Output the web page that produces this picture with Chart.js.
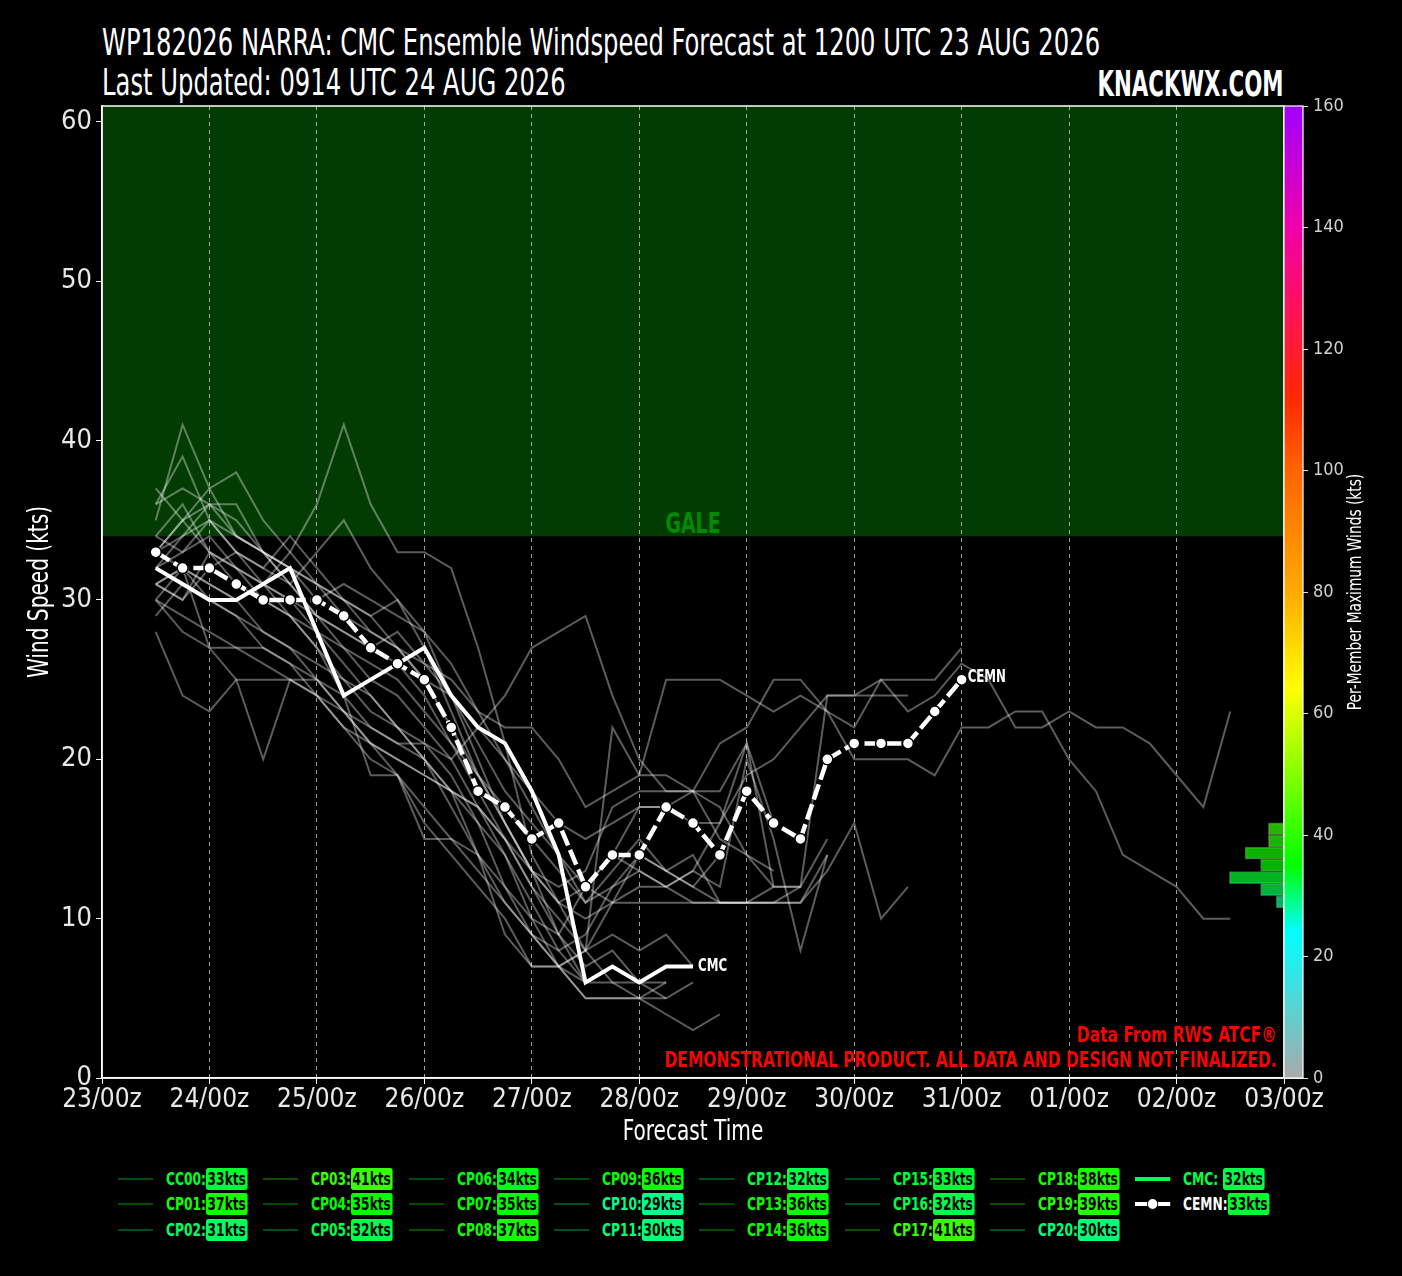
<!DOCTYPE html>
<html>
<head>
<meta charset="utf-8">
<script src="https://cdn.jsdelivr.net/npm/chart.js@4.4.1/dist/chart.umd.min.js"></script>
<style>
  html, body { margin: 0; padding: 0; background: #000; }
  body { width: 1402px; height: 1276px; position: relative; overflow: hidden;
         font-family: "Liberation Sans Narrow", "DejaVu Sans Condensed", "DejaVu Sans", sans-serif; }
  #wrap { position: absolute; left: 0; top: 0; width: 1402px; height: 1160px; }
  .ttl { position: absolute; color: #fff; white-space: nowrap; line-height: 1; }
  #t1 { left: 102px; top: 30px; font-size: 31px; transform-origin: 0 100%; transform: scale(0.87, 1.22); }
  #t2 { left: 102px; top: 70px; font-size: 31px; transform-origin: 0 100%; transform: scale(0.87, 1.22); }
  #brand { right: 118px; top: 72px; font-size: 30px; font-weight: bold; transform-origin: 100% 100%; transform: scale(0.79, 1.18); }
  .li { position: absolute; display: flex; align-items: center; height: 24px; transform-origin: 0 50%;
        transform: translateY(-50%) scaleX(0.8); font-weight: bold; font-size: 17px; }
  .sw { width: 44px; height: 0; margin-right: 16px; }
  .lb { min-width: 50px; }
  .bd { color: #000; border-radius: 3px; padding: 0 2px; line-height: 22px; }
</style>
</head>
<body>
<div id="t1" class="ttl">WP182026 NARRA: CMC Ensemble Windspeed Forecast at 1200 UTC 23 AUG 2026</div>
<div id="t2" class="ttl">Last Updated: 0914 UTC 24 AUG 2026</div>
<div id="brand" class="ttl">KNACKWX.COM</div>
<div id="wrap"><canvas id="chart" width="1402" height="1160"></canvas></div>
<div id="legend"></div>
<script>
// forecast hours after 23/00z
const forecastHours = [12,18,24,30,36,42,48,54,60,66,72,78,84,90,96,102,108,114,120,126,132,138,
                       144,150,156,162,168,174,180,186,192,198,204,210,216,222,228,234,240,246,252];
const dayTickHours = [0,24,48,72,96,120,144,168,192,216,240,264];
const dayLabels = ['23/00z','24/00z','25/00z','26/00z','27/00z','28/00z','29/00z','30/00z','31/00z','01/00z','02/00z','03/00z'];
const windTicks = [0,10,20,30,40,50,60];
const cbarTicks = [0,20,40,60,80,100,120,140,160];
const galeThreshold = 34;

// ensemble members (kts, every 6h from 12h)
const cc00 = [33,32,31,30,31,30,28,27,26,25,23,21,19,17,15,13,11,12,13,12,11,11,11,11,12,15];
const cp01 = [37,35,33,32,30,29,28,26,24,22,20,18,16,14,10,7,5,5,5,6];
const cp02 = [29,31,30,29,28,27,26,25,24,22,20,18,14,9,7,7,8,11,14,13,12,14];
const cp03 = [35,41,37,34,33,31,29,28,27,26,24,21,18,15,12,10,8,9,8,9,7];
const cp04 = [33,34,35,33,32,31,33,35,32,30,28,26,23,20,17,14,11,13,15,13,14,11,11,11,11,14];
const cp05 = [31,32,27,25,20,25,24,22,21,20,19,18,17,15,12,9,6,7,6,5];
const cp06 = [32,33,34,32,31,30,29,28,27,28,26,25,23,22,22,20,17,18,19,25,25,25,24,23,24,23,22,25,25,25,27];
const cp07 = [34,33,35,34,33,32,31,30,29,30,27,23,19,16,13,11,8,6,5,5,6];
const cp08 = [36,37,36,35,33,32,30,31,30,29,28,24,20,16,13,12,13,17,18,18,18,15,14,13];
const cp09 = [32,34,36,36,33,31,29,27,25,24,22,20,17,14,11,8,6,7,6];
const cp10 = [28,24,23,25,25,25,25,24,22,21,21,20,22,24,27,28,29,24,20,18,18,17,14,12];
const cp11 = [30,29,28,27,27,26,25,23,22,21,20,17,14,11,9,7,8,22,19,19,18,21,22,25,25,23,20,20,20,19,22,22,23,23,20,18,14,13,12,10,10];
const cp12 = [31,32,30,29,27,26,24,22,20,19,17,15,13,11,9,8,9,12,14,13,12,11,11,11,11,13,16,10,12];
const cp13 = [34,36,33,32,31,29,27,24,19,19,16,14,12,10,7,7,5,5,5,4,3,4];
const cp14 = [33,35,36,34,33,32,31,29,28,27,26,24,22,20,18,16,15,16,17,17,16,16,19,20,22,24,24,24,24];
const cp15 = [31,30,33,31,30,29,27,25,23,22,21,19,16,12,10,9,12,14,13,12,13,12,20,15,8,14];
const cp16 = [30,32,31,30,28,27,25,23,21,19,15,15,14,12,9,7,6,6,6,7];
const cp17 = [31,30,32,33,31,33,36,41,36,33,33,32,27,21,14,11,12,14,17,17,18,18,21,16];
const cp18 = [33,35,37,38,35,33,31,30,28,27,25,22,19,16,13,9,7,8,6,6];
const cp19 = [36,39,35,33,32,34,32,30,29,27,25,24,21,18,16,14,12,11,11,11,11,11,11,12,12];
const cp20 = [30,28,27,27,26,25,24,23,21,20,19,18,17,15,13,11,10,11,12,12,13,16,21,12,12,24,24,25,23,24,26,25,22,22,23,22,22,21,19,17,23];

const memberNames = ['CC00','CP01','CP02','CP03','CP04','CP05','CP06','CP07','CP08','CP09','CP10',
                     'CP11','CP12','CP13','CP14','CP15','CP16','CP17','CP18','CP19','CP20'];
const memberSeries = [cc00,cp01,cp02,cp03,cp04,cp05,cp06,cp07,cp08,cp09,cp10,
                      cp11,cp12,cp13,cp14,cp15,cp16,cp17,cp18,cp19,cp20];
const memberMax = [33,37,31,41,35,32,34,35,37,36,29,30,32,36,36,33,32,41,38,39,30];

const cmcWind  = [32,31,30,30,31,32,28,24,25,26,27,24,22,21,18,14,6,7,6,7,7];
const cemnWind = [33,32,32,31,30,30,30,29,27,26,25,22,18,17,15,16,12,14,14,17,16,14,18,16,15,20,21,21,21,23,25];
const cmcMax = 32;
const cemnMax = 33;

// histogram of per-member maximum winds (bin centres, 2 kt bins)
const histBins   = [29,31,33,35,37,39,41];
const histCounts = [1,3,7,3,5,2,2];

// colour scale for maximum winds
const cbarStops  = [0,24,35,64,80,100,112,125,140,160];
const cbarColors = [[170,170,170],[0,255,255],[0,255,0],[255,255,0],[255,170,0],[255,100,0],
                    [255,40,0],[255,20,80],[240,0,170],[160,0,255]];

const FONT = '"Liberation Sans Narrow", "DejaVu Sans Condensed", "DejaVu Sans", sans-serif';

function cmap(v) {
  for (let i = 1; i < cbarStops.length; i++) {
    if (v <= cbarStops[i]) {
      const t = (v - cbarStops[i-1]) / (cbarStops[i] - cbarStops[i-1]);
      const a = cbarColors[i-1], b = cbarColors[i];
      return a.map((c, k) => Math.round(c + (b[k] - c) * t));
    }
  }
  return cbarColors[cbarColors.length - 1];
}
const rgba = (c, a) => `rgba(${c[0]},${c[1]},${c[2]},${a})`;
const toXY = vals => vals.map((v, i) => ({x: forecastHours[i], y: v}));

// condensed text helper (fallback fonts are wider than the original)
function text(ctx, str, x, y, opt) {
  ctx.save();
  ctx.translate(x, y);
  if (opt.rotate) ctx.rotate(opt.rotate);
  ctx.scale(opt.sx || 1, opt.sy || 1);
  ctx.font = opt.font;
  ctx.fillStyle = opt.color;
  ctx.textAlign = opt.align || 'left';
  ctx.textBaseline = opt.baseline || 'alphabetic';
  ctx.fillText(str, 0, 0);
  ctx.restore();
}

const datasets = [];
datasets.push({
  label: 'CEMN', data: toXY(cemnWind), xAxisID: 'x', yAxisID: 'y', order: 1,
  borderColor: '#fff', borderWidth: 4.5, borderDash: [16, 5],
  pointRadius: 5.5, pointBackgroundColor: '#fff', pointBorderColor: '#000', pointBorderWidth: 1.5
});
datasets.push({
  label: 'CMC', data: toXY(cmcWind), xAxisID: 'x', yAxisID: 'y', order: 2,
  borderColor: '#fff', borderWidth: 4, pointRadius: 0
});
memberSeries.forEach((s, i) => {
  datasets.push({
    label: memberNames[i], data: toXY(s), xAxisID: 'x', yAxisID: 'y', order: 10,
    borderColor: 'rgba(255,255,255,0.36)', borderWidth: 2, pointRadius: 0
  });
});
datasets.push({
  type: 'bar', label: 'hist', indexAxis: 'y', xAxisID: 'xh', yAxisID: 'yc', order: 20,
  data: histBins.map((b, i) => ({x: histCounts[i], y: b})),
  backgroundColor: histBins.map(b => rgba(cmap(b), 0.7)),
  borderColor: 'rgba(255,255,255,0.3)', borderWidth: 1,
  barThickness: 12.1, grouped: false
});
datasets.push({
  label: 'gale', data: [{x: 0, y: 61}, {x: 264, y: 61}], xAxisID: 'x', yAxisID: 'y', order: 100,
  borderWidth: 0, pointRadius: 0, fill: {value: galeThreshold}, backgroundColor: '#033c03'
});

const decor = {
  id: 'decor',
  afterDatasetsDraw(chart) {
    const {ctx, chartArea: a, scales} = chart;
    const gy = scales.y.getPixelForValue(galeThreshold);
    text(ctx, 'GALE', (a.left + a.right) / 2, gy - 3,
         {font: 'bold 27px ' + FONT, color: '#008c00', align: 'center', sx: 0.78, sy: 1.05});
    const lastCmc = cmcWind.length - 1;
    text(ctx, 'CMC', scales.x.getPixelForValue(forecastHours[lastCmc]) + 5, scales.y.getPixelForValue(cmcWind[lastCmc]) + 5,
         {font: 'bold 16px ' + FONT, color: '#fff', sx: 0.82, sy: 1.1});
    const lastCemn = cemnWind.length - 1;
    text(ctx, 'CEMN', scales.x.getPixelForValue(forecastHours[lastCemn]) + 6, scales.y.getPixelForValue(cemnWind[lastCemn]) + 2,
         {font: 'bold 16px ' + FONT, color: '#fff', sx: 0.82, sy: 1.1});
    text(ctx, 'Data From RWS ATCF\u00ae', a.right - 7, a.bottom - 36,
         {font: 'bold 20px ' + FONT, color: '#ff0000', align: 'right', sx: 0.86, sy: 1.1});
    text(ctx, 'DEMONSTRATIONAL PRODUCT. ALL DATA AND DESIGN NOT FINALIZED.', a.right - 7, a.bottom - 11,
         {font: 'bold 20px ' + FONT, color: '#ff0000', align: 'right', sx: 0.86, sy: 1.1});
    ctx.save();
    ctx.strokeStyle = '#fff';
    ctx.lineWidth = 1.5;
    ctx.strokeRect(a.left, a.top, a.right - a.left, a.bottom - a.top);
    ctx.restore();
  },
  afterDraw(chart) {
    const {ctx, chartArea: a, scales} = chart;
    const yc = scales.yc;
    const y0 = yc.getPixelForValue(0), y1 = yc.getPixelForValue(160);
    ctx.save();
    const g = ctx.createLinearGradient(0, y0, 0, y1);
    cbarStops.forEach((v, i) => g.addColorStop(v / 160, rgba(cbarColors[i], 1)));
    ctx.fillStyle = g;
    ctx.fillRect(a.right, y1, 19, y0 - y1);
    ctx.strokeStyle = '#fff';
    ctx.lineWidth = 1.2;
    ctx.strokeRect(a.right, y1, 19, y0 - y1);
    ctx.restore();
    const midY = (a.top + a.bottom) / 2;
    text(ctx, 'Per-Member Maximum Winds (kts)', 1356, midY,
         {font: '18px ' + FONT, color: '#fff', align: 'center', baseline: 'middle', rotate: -Math.PI / 2, sx: 0.85, sy: 1.1});
    text(ctx, 'Wind Speed (kts)', 40, midY,
         {font: '26px ' + FONT, color: '#fff', align: 'center', baseline: 'middle', rotate: -Math.PI / 2, sx: 0.86, sy: 1.12});
    text(ctx, 'Forecast Time', (a.left + a.right) / 2, 1132,
         {font: '26px ' + FONT, color: '#fff', align: 'center', baseline: 'middle', sx: 0.86, sy: 1.12});
  }
};

Chart.defaults.font.family = FONT;

new Chart(document.getElementById('chart'), {
  type: 'line',
  data: {datasets},
  options: {
    responsive: false,
    devicePixelRatio: 1,
    animation: false,
    events: [],
    layout: {padding: {top: 106, bottom: 12, left: 0, right: 0}},
    plugins: {
      legend: {display: false},
      tooltip: {enabled: false},
      filler: {drawTime: 'beforeDraw'}
    },
    scales: {
      x: {
        type: 'linear', min: 0, max: 264,
        afterBuildTicks: s => { s.ticks = dayTickHours.map(v => ({value: v})); },
        afterFit: s => { s.height = 70; },
        ticks: {
          color: '#e8e8e8', font: {size: 26}, padding: 1, maxRotation: 0, autoSkip: false,
          callback: v => dayLabels[dayTickHours.indexOf(v)]
        },
        grid: {
          color: c => (c.tick && (c.tick.value === 0 || c.tick.value === 264)) ? 'rgba(0,0,0,0)' : 'rgba(190,190,190,0.85)',
          lineWidth: 1, tickLength: 6, tickColor: '#fff'
        },
        border: {color: '#fff', width: 1.5, dash: [4, 4]}
      },
      y: {
        type: 'linear', min: 0, max: 61, position: 'left',
        afterBuildTicks: s => { s.ticks = windTicks.map(v => ({value: v})); },
        afterFit: s => { s.width = 102; },
        ticks: {color: '#e8e8e8', font: {size: 27}, padding: 4},
        grid: {drawOnChartArea: false, tickLength: 6, tickColor: '#fff'},
        border: {color: '#fff', width: 1.5}
      },
      yc: {
        type: 'linear', axis: 'y', min: 0, max: 160, position: 'right', offset: false,
        afterBuildTicks: s => { s.ticks = cbarTicks.map(v => ({value: v})); },
        afterFit: s => { s.width = 118; },
        ticks: {color: '#d0d0d0', font: {size: 18}, padding: 5},
        grid: {drawOnChartArea: false, offset: false, tickLength: 24, tickColor: '#ddd'},
        border: {display: false}
      },
      xh: {
        type: 'linear', axis: 'x', min: 0, max: 151.5, reverse: true, display: false, offset: false
      }
    }
  },
  plugins: [decor]
});

// legend
const legend = document.getElementById('legend');
const entries = memberNames.map((n, i) => ({name: n, max: memberMax[i], kind: 'member'}));
entries.push({name: 'CMC', max: cmcMax, kind: 'cmc'});
entries.push({name: 'CEMN', max: cemnMax, kind: 'cemn'});
entries.forEach((e, k) => {
  const col = Math.floor(k / 3), row = k % 3;
  const c = cmap(e.max);
  const item = document.createElement('div');
  item.className = 'li';
  item.style.left = (118 + col * 145.3) + 'px';
  item.style.top = (1179 + row * 25.3) + 'px';
  const sw = document.createElement('span');
  sw.className = 'sw';
  if (e.kind === 'member') {
    sw.style.borderTop = '2.5px solid ' + rgba(c, 0.3);
  } else if (e.kind === 'cmc') {
    sw.style.borderTop = '4px solid ' + rgba(c, 1);
  } else {
    sw.style.height = '12px';
    sw.style.position = 'relative';
    sw.innerHTML = '<span style="position:absolute;left:0;top:4px;width:16px;height:4px;background:#fff"></span>' +
                   '<span style="position:absolute;left:28px;top:4px;width:16px;height:4px;background:#fff"></span>' +
                   '<span style="position:absolute;left:15px;top:0;width:14px;height:12px;border-radius:50%;background:#fff;box-sizing:border-box;border:1px solid #000"></span>';
  }
  const lb = document.createElement('span');
  lb.className = 'lb';
  lb.textContent = e.name + ':';
  lb.style.color = e.kind === 'cemn' ? '#fff' : rgba(c, 1);
  const bd = document.createElement('span');
  bd.className = 'bd';
  bd.textContent = e.max + 'kts';
  bd.style.background = rgba(c, 1);
  item.appendChild(sw);
  item.appendChild(lb);
  item.appendChild(bd);
  legend.appendChild(item);
});
</script>
</body>
</html>
